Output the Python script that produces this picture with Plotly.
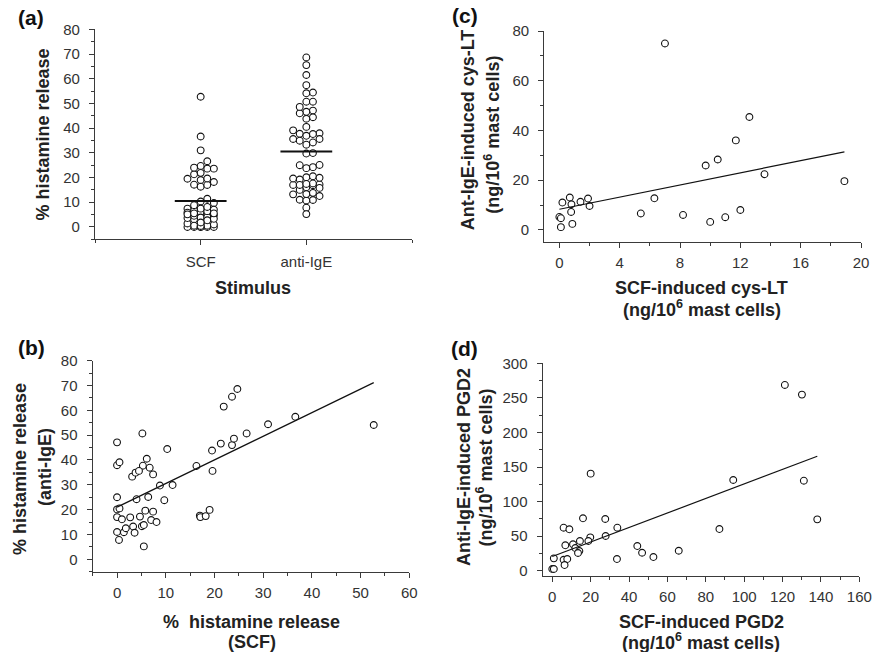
import numpy as np
import plotly.graph_objects as go

# ---------------- data ----------------
categories = ["SCF", "anti-IgE"]

# paired % histamine release per donor (panels a and b)
scf_hist = [0, 0, 0.5, 5.2, 6.1, 5.3, 6.7, 3.1, 3.8, 4.5, 7.4, 10.3, 8.8, 11.4,
            0, 4.0, 6.4, 9.7, 0, 0.5, 0, 1.0, 2.7, 4.7, 5.8, 7.4, 7.0, 8.1,
            0, 0.4, 1.4, 1.8, 3.3, 3.6, 5.1, 5.5, 5.5, 16.3, 17.0, 17.1, 18.2,
            19.0, 19.5, 19.6, 21.3, 21.9, 23.6, 24.7, 23.6, 24.0, 26.6, 31.0,
            36.6, 52.7]
ige_hist = [47.1, 37.9, 39.1, 50.7, 40.5, 37.7, 36.9, 33.3, 34.9, 35.6, 34.2,
            44.4, 29.7, 29.9, 25.0, 24.2, 25.1, 23.8, 20.1, 20.5, 17.0, 16.1,
            16.9, 17.2, 19.6, 19.2, 15.8, 15.0, 11.0, 7.8, 10.9, 12.5, 13.2,
            10.7, 13.3, 13.8, 5.2, 37.6, 17.6, 17.0, 17.4, 19.9, 43.8, 35.6,
            46.6, 61.5, 65.5, 68.6, 46.0, 48.6, 50.7, 54.4, 57.4, 54.1]

# panel c: cys-LT
scf_cyslt = [7.0, 12.6, 11.7, 10.5, 9.7, 13.6, 18.9, 6.3, 5.4, 8.2, 10.0, 11.0,
             12.0, 0.2, 0.69, 0.8, 0.78, 1.4, 1.9, 2.0, 0.0, 0.1, 0.1, 0.86]
ige_cyslt = [75.0, 45.4, 36.0, 28.3, 25.9, 22.4, 19.6, 12.7, 6.6, 6.0, 3.2, 5.1,
             8.0, 11.0, 13.0, 10.3, 7.2, 11.3, 12.6, 9.6, 5.2, 4.7, 1.1, 2.4]

# panel d: PGD2
scf_pgd2 = [121.2, 130.1, 94.3, 131.1, 138.1, 87.1, 20.0, 16.0, 27.6, 33.9, 5.9,
            8.9, 27.8, 19.8, 18.8, 14.4, 10.8, 6.8, 12.0, 14.1, 13.4, 44.3, 46.8,
            52.7, 65.9, 33.7, 0.8, 5.9, 7.8, 6.4, 0.0, 0.8]
ige_pgd2 = [268.7, 254.7, 131.2, 130.2, 74.3, 60.3, 140.4, 75.8, 74.8, 62.2, 62.2,
            59.9, 50.2, 48.3, 43.0, 43.0, 38.2, 36.8, 32.8, 28.5, 25.6, 35.7, 26.0,
            19.8, 28.9, 16.9, 17.9, 15.9, 16.9, 8.2, 2.5, 2.5]

# regression lines (intercept, slope) as printed in the figure
fit_b = (21.0, 0.952)
fit_c = (8.3, 1.222)
fit_d = (20.5, 1.05)

# ---------------- helpers ----------------
W, H = 873, 652
FONT = "Liberation Sans, Arial, sans-serif"
AX = "#3a3a3a"
TXT = "#333333"


def px(x):
    return x / W


def py(y):
    return 1 - y / H


def swarm(vals, step, dmin, maxcol, xscale, yscale):
    """Deterministic column swarm (Prism-like) computed from the values."""
    vals = np.asarray(vals, float)
    order = np.argsort(vals, kind="stable")
    placed = []
    offs = np.zeros(len(vals))
    cands = [0]
    for j in range(1, maxcol + 1):
        cands += [j, -j]
    for i in order:
        yy = vals[i] * yscale
        best, bestd = 0, -1.0
        chosen = None
        for c in cands:
            xo = c * step
            dd = min([np.hypot(xo - a, yy - b) for a, b in placed] or [1e9])
            if dd >= dmin:
                chosen = xo
                break
            if dd > bestd:
                best, bestd = xo, dd
        if chosen is None:
            chosen = best
        placed.append((chosen, yy))
        offs[i] = chosen / xscale
    return offs


marker = dict(symbol="circle", size=6.8, color="white",
              line=dict(color="#111111", width=1.1))

fig = go.Figure()

# ---------- panel (a) ----------
a_dom_x = [px(95), px(412)]
a_dom_y = [py(239.3), py(29.3)]
xscale_a = (412 - 95) / 3.0
yscale_a = (239.3 - 29.3) / 85.0
for k, vals in enumerate([scf_hist, ige_hist]):
    offs = swarm(vals, 6.6, 6.2, 2, xscale_a, yscale_a)
    fig.add_trace(go.Scatter(x=(k + 1) + offs, y=vals, mode="markers", marker=marker,
                             xaxis="x", yaxis="y", showlegend=False, hoverinfo="y"))
    m = float(np.mean(vals))
    fig.add_trace(go.Scatter(x=[k + 1 - 0.245, k + 1 + 0.245], y=[m, m], mode="lines",
                             line=dict(color="#111111", width=2),
                             xaxis="x", yaxis="y", showlegend=False, hoverinfo="skip"))


def add_scatter(xv, yv, fit, xa, ya):
    fig.add_trace(go.Scatter(x=xv, y=yv, mode="markers", marker=marker,
                             xaxis=xa, yaxis=ya, showlegend=False))
    x0, x1 = min(xv), max(xv)
    fig.add_trace(go.Scatter(x=[x0, x1], y=[fit[0] + fit[1] * x0, fit[0] + fit[1] * x1],
                             mode="lines", line=dict(color="#111111", width=1.2),
                             xaxis=xa, yaxis=ya, showlegend=False, hoverinfo="skip"))


add_scatter(scf_hist, ige_hist, fit_b, "x2", "y2")
add_scatter(scf_cyslt, ige_cyslt, fit_c, "x3", "y3")
add_scatter(scf_pgd2, ige_pgd2, fit_d, "x4", "y4")


def axis(domain, rng, dtick=None, minor=None, anchor=None, **kw):
    d = dict(domain=domain, range=rng, showline=True, linecolor=AX, linewidth=1.3,
             ticks="outside", ticklen=5, tickwidth=1.2, tickcolor=AX,
             showgrid=False, zeroline=False, anchor=anchor, automargin=False,
             tickfont=dict(family=FONT, size=15, color=TXT))
    if dtick is not None:
        d["dtick"] = dtick
        d["tick0"] = 0
    if minor is not None:
        d["minor"] = dict(dtick=minor, tick0=0, ticks="outside", ticklen=3,
                          tickwidth=1, tickcolor=AX, showgrid=False)
    d.update(kw)
    return d


fig.update_layout(
    template="none",
    width=W, height=H, margin=dict(l=0, r=0, t=0, b=0, pad=0, autoexpand=False),
    paper_bgcolor="white", plot_bgcolor="white", showlegend=False,
    font=dict(family=FONT, color=TXT),
    xaxis=axis(a_dom_x, [0, 3], anchor="y", tickmode="array", tickvals=[1, 2],
               ticktext=categories, ticklabelstandoff=4,
               minor=dict(tickvals=[0, 3], ticks="outside", ticklen=5, tickwidth=1.2,
                          tickcolor=AX, showgrid=False)),
    yaxis=axis(a_dom_y, [-5, 80], dtick=10, minor=5, anchor="x", ticklabelstandoff=6),
    xaxis2=axis([px(92.7), px(409.3)], [-5, 60], dtick=10, minor=5, anchor="y2",
                ticklabelstandoff=2),
    yaxis2=axis([py(571.7), py(360.7)], [-5, 80], dtick=10, minor=5, anchor="x2",
                ticklabelstandoff=6),
    xaxis3=axis([px(544.3), px(861)], [-1, 20], dtick=4, minor=2, anchor="y3",
                ticklabelstandoff=2),
    yaxis3=axis([py(242.3), py(31)], [-5, 80], dtick=20, minor=10, anchor="x3",
                ticklabelstandoff=6),
    xaxis4=axis([px(542.7), px(859.3)], [-5, 160], dtick=20, minor=10, anchor="y4",
                ticklabelstandoff=2),
    yaxis4=axis([py(575.7), py(363.3)], [-7.2, 300], dtick=50, minor=25, anchor="x4",
                ticklabelstandoff=6),
)

TF = dict(family=FONT, size=18, color="#222222")
LF = dict(family=FONT, size=21, color="#111111")


def ann(text, x, y, font, angle=0):
    fig.add_annotation(text=text, x=px(x), y=py(y), xref="paper", yref="paper",
                       showarrow=False, font=font, textangle=angle,
                       xanchor="center", yanchor="middle", borderpad=0)


# panel labels
ann("<b>(a)</b>", 31, 18, LF)
ann("<b>(b)</b>", 31, 347, LF)
ann("<b>(c)</b>", 465, 16, LF)
ann("<b>(d)</b>", 464, 348, LF)

# axis titles (one annotation per line)
ann("<b>% histamine release</b>", 42.5, 135, TF, -90)
ann("<b>Stimulus</b>", 253, 288, TF)

ann("<b>% histamine release</b>", 20, 469, TF, -90)
ann("<b>(anti-IgE)</b>", 45, 467, TF, -90)
ann("<b>%  histamine release</b>", 251.7, 621.7, TF)
ann("<b>(SCF)</b>", 251.7, 641.7, TF)

ann("<b>Ant-IgE-induced cys-LT</b>", 468.3, 130, TF, -90)
ann("<b>(ng/10<sup>6</sup> mast cells)</b>", 491.7, 135, TF, -90)
ann("<b>SCF-induced cys-LT</b>", 701.3, 288.3, TF)
ann("<b>(ng/10<sup>6</sup> mast cells)</b>", 701.7, 308.3, TF)

ann("<b>Anti-IgE-induced PGD2</b>", 464, 467, TF, -90)
ann("<b>(ng/10<sup>6</sup> mast cells)</b>", 485, 467.5, TF, -90)
ann("<b>SCF-induced PGD2</b>", 701, 621.7, TF)
ann("<b>(ng/10<sup>6</sup> mast cells)</b>", 701, 641.7, TF)

fig.write_html(
    "out.html",
    config={"displayModeBar": False, "responsive": False},
    post_script=(
        "document.documentElement.style.margin='0';"
        "document.documentElement.style.overflow='hidden';"
        "document.body.style.margin='0';document.body.style.padding='0';"
        "document.body.style.overflow='hidden';"
        "var gd=document.getElementById('{plot_id}');"
        "gd.style.position='fixed';gd.style.left='0px';gd.style.top='0px';"
    ),
)
